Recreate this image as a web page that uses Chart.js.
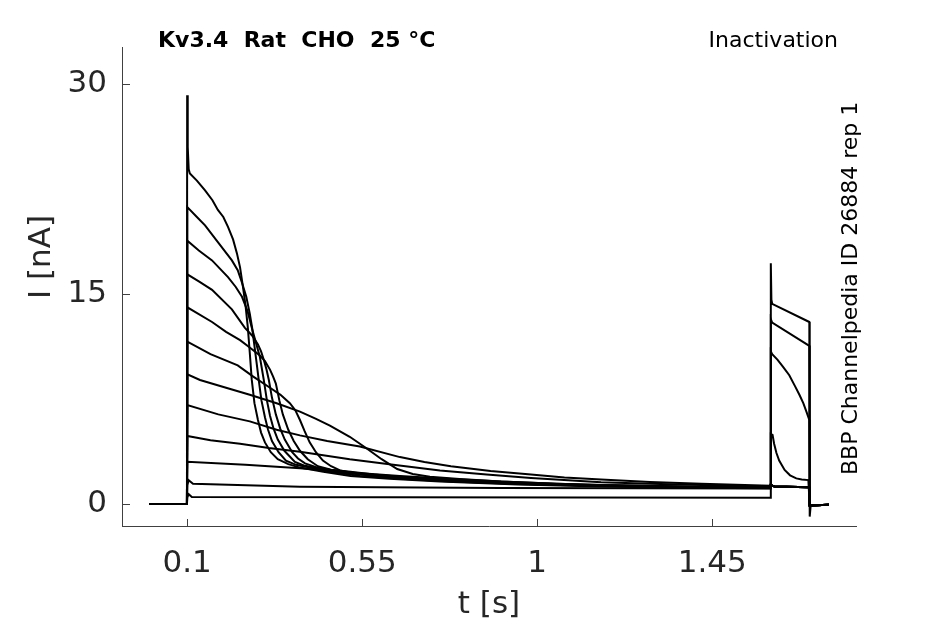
<!DOCTYPE html>
<html>
<head>
<meta charset="utf-8">
<script src="https://cdn.jsdelivr.net/npm/chart.js@4.4.1/dist/chart.umd.min.js"></script>
<style>
  html, body { margin: 0; padding: 0; background: #fff; }
  #wrap { width: 945px; height: 624px; }
</style>
</head>
<body>
<div id="wrap"><canvas id="traces"></canvas></div>
<script>
// tick labels
const xTicks = [0.1, 0.55, 1, 1.45];
const yTicks = [0, 15, 30];

// holding level before the prepulse (t in s, I in nA)
const hold = [[0.002, 0], [0.0995, 0]];

// prepulse part of each sweep
const pre01 = [[0.1, 29.2], [0.1015, 25.5], [0.104, 23.9], [0.107, 23.6], [0.125, 23.1], [0.146, 22.4], [0.165, 21.7], [0.179, 21.0], [0.193, 20.5], [0.205, 19.8], [0.218, 18.9], [0.228, 17.9], [0.236, 16.9], [0.243, 15.6], [0.250, 14.2], [0.256, 12.6], [0.261, 10.8], [0.266, 8.9], [0.273, 7.2], [0.282, 6.0], [0.290, 5.1], [0.300, 4.4], [0.315, 3.7], [0.333, 3.2], [0.36, 2.85], [0.39, 2.6], [0.45, 2.3], [0.52, 2.0], [0.62, 1.8], [0.75, 1.6], [0.95, 1.4], [1.164, 1.25], [1.4, 1.16], [1.6, 1.12]];
const pre02 = [[0.1005, 21.2], [0.125, 20.5], [0.146, 19.9], [0.179, 18.7], [0.215, 17.4], [0.230, 16.7], [0.241, 15.8], [0.252, 14.8], [0.261, 13.6], [0.267, 12.6], [0.272, 11.5], [0.278, 10.2], [0.284, 8.86], [0.291, 7.4], [0.300, 6.2], [0.308, 5.3], [0.318, 4.5], [0.335, 3.7], [0.354, 3.1], [0.38, 2.8], [0.415, 2.6], [0.47, 2.3], [0.544, 2.0], [0.65, 1.8], [0.778, 1.6], [0.95, 1.42], [1.164, 1.28], [1.4, 1.2], [1.6, 1.15]];
const pre03 = [[0.1005, 18.8], [0.13, 18.1], [0.164, 17.4], [0.205, 16.2], [0.225, 15.5], [0.241, 14.8], [0.255, 13.8], [0.266, 12.6], [0.277, 11.5], [0.287, 10.5], [0.297, 8.86], [0.305, 7.4], [0.313, 6.3], [0.322, 5.4], [0.333, 4.6], [0.350, 3.8], [0.377, 3.0], [0.40, 2.75], [0.436, 2.55], [0.49, 2.3], [0.544, 2.1], [0.65, 1.85], [0.778, 1.62], [0.95, 1.45], [1.164, 1.3], [1.4, 1.2], [1.6, 1.15]];
const pre04 = [[0.1005, 16.4], [0.13, 15.9], [0.164, 15.3], [0.215, 13.9], [0.248, 12.6], [0.268, 12.0], [0.282, 11.4], [0.290, 10.9], [0.297, 10.3], [0.304, 9.6], [0.310, 8.86], [0.318, 7.6], [0.328, 6.4], [0.339, 5.4], [0.351, 4.6], [0.37, 3.7], [0.385, 3.25], [0.403, 2.9], [0.43, 2.65], [0.467, 2.45], [0.52, 2.25], [0.58, 2.05], [0.68, 1.82], [0.778, 1.65], [0.95, 1.45], [1.164, 1.3], [1.4, 1.2], [1.6, 1.15]];
const pre05 = [[0.1005, 14.05], [0.164, 13.0], [0.20, 12.3], [0.236, 11.7], [0.26, 11.2], [0.287, 10.6], [0.300, 10.2], [0.313, 9.6], [0.321, 9.1], [0.328, 8.6], [0.337, 7.4], [0.346, 6.4], [0.36, 5.3], [0.374, 4.5], [0.39, 3.8], [0.41, 3.2], [0.436, 2.7], [0.47, 2.45], [0.52, 2.3], [0.58, 2.1], [0.647, 1.95], [0.78, 1.72], [0.907, 1.55], [1.164, 1.32], [1.4, 1.2], [1.6, 1.15]];
const pre06 = [[0.1005, 11.6], [0.16, 10.7], [0.230, 9.9], [0.27, 9.1], [0.313, 8.3], [0.34, 7.8], [0.364, 7.2], [0.378, 6.7], [0.390, 6.0], [0.402, 5.2], [0.415, 4.4], [0.431, 3.7], [0.449, 3.1], [0.47, 2.7], [0.493, 2.4], [0.53, 2.2], [0.58, 2.05], [0.66, 1.87], [0.75, 1.7], [0.86, 1.57], [0.984, 1.45], [1.164, 1.32], [1.4, 1.2], [1.6, 1.15]];
const pre07 = [[0.1005, 9.26], [0.133, 8.86], [0.2, 8.3], [0.261, 7.8], [0.33, 7.2], [0.390, 6.6], [0.43, 6.1], [0.467, 5.6], [0.518, 4.8], [0.56, 4.0], [0.60, 3.2], [0.64, 2.5], [0.68, 2.15], [0.724, 1.95], [0.8, 1.78], [0.907, 1.6], [1.05, 1.45], [1.164, 1.35], [1.422, 1.22], [1.6, 1.15]];
const pre08 = [[0.1005, 7.07], [0.18, 6.4], [0.261, 5.9], [0.33, 5.3], [0.390, 4.9], [0.46, 4.5], [0.544, 4.1], [0.647, 3.35], [0.71, 3.0], [0.778, 2.7], [0.88, 2.35], [0.984, 2.1], [1.07, 1.9], [1.164, 1.75], [1.29, 1.58], [1.422, 1.45], [1.6, 1.3]];
const pre09 = [[0.1005, 4.86], [0.16, 4.55], [0.236, 4.3], [0.310, 4.0], [0.390, 3.74], [0.518, 3.2], [0.63, 2.8], [0.750, 2.4], [0.87, 2.1], [0.984, 1.85], [1.164, 1.55], [1.29, 1.44], [1.422, 1.35], [1.6, 1.25]];
const pre10 = [[0.1005, 3.02], [0.25, 2.8], [0.390, 2.55], [0.52, 2.25], [0.647, 2.0], [0.78, 1.78], [0.907, 1.6], [1.05, 1.45], [1.164, 1.35], [1.4, 1.25], [1.6, 1.2]];
const pre11 = [[0.1005, 1.36], [0.104, 1.7], [0.115, 1.45], [0.390, 1.24], [0.907, 1.15], [1.6, 1.1]];
const pre12 = [[0.1005, 0.48], [0.104, 0.7], [0.112, 0.5], [1.6, 0.45]];

// test pulse part of each sweep
const testLow = [[1.6005, 1.35], [1.61, 1.25], [1.6995, 1.2]];
const test09 = [[1.6005, 5.0], [1.605, 4.93], [1.609, 4.3], [1.615, 3.64], [1.622, 3.1], [1.636, 2.43], [1.65, 2.05], [1.666, 1.83], [1.68, 1.75], [1.697, 1.71]];
const test10 = [[1.6005, 10.9], [1.604, 10.7], [1.618, 10.3], [1.632, 9.8], [1.648, 9.2], [1.663, 8.4], [1.674, 7.8], [1.684, 7.2], [1.692, 6.6], [1.6995, 6.0]];
const test11 = [[1.6005, 13.2], [1.604, 12.95], [1.6995, 11.3]];
const test12 = [[1.6005, 17.2], [1.602, 14.6], [1.604, 14.3], [1.6995, 13.0]];

// back to holding
const tail = [[1.7005, -0.1], [1.75, -0.05]];
const tailSpike = [[1.7005, -0.9], [1.703, -0.1], [1.75, -0.05]];

const sweeps = [
  [pre01, testLow, tail], [pre02, testLow, tail], [pre03, testLow, tail],
  [pre04, testLow, tail], [pre05, testLow, tail], [pre06, testLow, tail],
  [pre07, testLow, tail], [pre08, testLow, tail], [pre09, test09, tail],
  [pre10, test10, tail], [pre11, test11, tail], [pre12, test12, tailSpike]
];

const axisColor = '#404040';
const textColor = '#262626';
const font = 'DejaVu Sans';

function toPoints(parts) {
  return [hold].concat(parts).flat().map(p => ({ x: p[0], y: p[1] }));
}

const datasets = sweeps.map((parts, i) => ({
  label: 'sweep ' + (i + 1),
  data: toPoints(parts),
  borderColor: '#000',
  borderWidth: 2,
  pointRadius: 0,
  fill: false,
  tension: 0
}));

// inward ticks, titles and side notes
const decorations = {
  id: 'decorations',
  afterDraw(chart) {
    const ctx = chart.ctx;
    const xs = chart.scales.x, ys = chart.scales.y;
    const area = chart.chartArea;
    ctx.save();
    ctx.strokeStyle = axisColor;
    ctx.lineWidth = 1;
    ctx.beginPath();
    xTicks.forEach(v => {
      const px = Math.round(xs.getPixelForValue(v)) + 0.5;
      ctx.moveTo(px, area.bottom);
      ctx.lineTo(px, area.bottom - 7);
    });
    yTicks.forEach(v => {
      const py = Math.round(ys.getPixelForValue(v)) + 0.5;
      ctx.moveTo(area.left, py);
      ctx.lineTo(area.left + 8, py);
    });
    ctx.stroke();

    ctx.fillStyle = textColor;
    ctx.font = '31px "' + font + '"';
    ctx.textAlign = 'center';
    ctx.textBaseline = 'alphabetic';
    ctx.fillText('t [s]', (area.left + area.right) / 2, 613);

    ctx.save();
    ctx.translate(50, 257);
    ctx.rotate(-Math.PI / 2);
    ctx.fillText('I [nA]', 0, 0);
    ctx.restore();

    ctx.fillStyle = '#000';
    ctx.font = 'bold 22px "' + font + '"';
    ctx.textAlign = 'left';
    ctx.fillText('Kv3.4  Rat  CHO  25 °C', 158, 47);

    ctx.font = '22px "' + font + '"';
    ctx.textAlign = 'right';
    ctx.fillText('Inactivation', 838, 47);

    ctx.save();
    ctx.translate(857, 475);
    ctx.rotate(-Math.PI / 2);
    ctx.textAlign = 'left';
    ctx.font = '22px "' + font + '"';
    ctx.fillText('BBP Channelpedia ID 26884 rep 1', 0, 0);
    ctx.restore();
    ctx.restore();
  }
};

new Chart(document.getElementById('traces'), {
  type: 'line',
  data: { datasets: datasets },
  options: {
    responsive: true,
    maintainAspectRatio: false,
    animation: false,
    events: [],
    layout: { padding: { top: 47, right: 89, bottom: 0, left: 0 } },
    plugins: { legend: { display: false }, tooltip: { enabled: false } },
    scales: {
      x: {
        type: 'linear',
        min: -0.0675,
        max: 1.8195,
        afterBuildTicks: s => { s.ticks = xTicks.map(v => ({ value: v })); },
        afterFit: s => { s.height = 98; },
        grid: { display: false, drawTicks: false },
        border: { display: true, color: axisColor, width: 1 },
        ticks: {
          padding: 19,
          color: textColor,
          font: { family: font, size: 31 },
          maxRotation: 0,
          autoSkip: false,
          callback: v => String(v)
        }
      },
      y: {
        type: 'linear',
        min: -1.571,
        max: 32.64,
        afterBuildTicks: s => { s.ticks = yTicks.map(v => ({ value: v })); },
        afterFit: s => { s.width = 122; },
        grid: { display: false, drawTicks: false },
        border: { display: true, color: axisColor, width: 1 },
        ticks: {
          padding: 15,
          color: textColor,
          font: { family: font, size: 31 },
          callback: v => String(v)
        }
      }
    }
  },
  plugins: [decorations]
});
</script>
</body>
</html>
